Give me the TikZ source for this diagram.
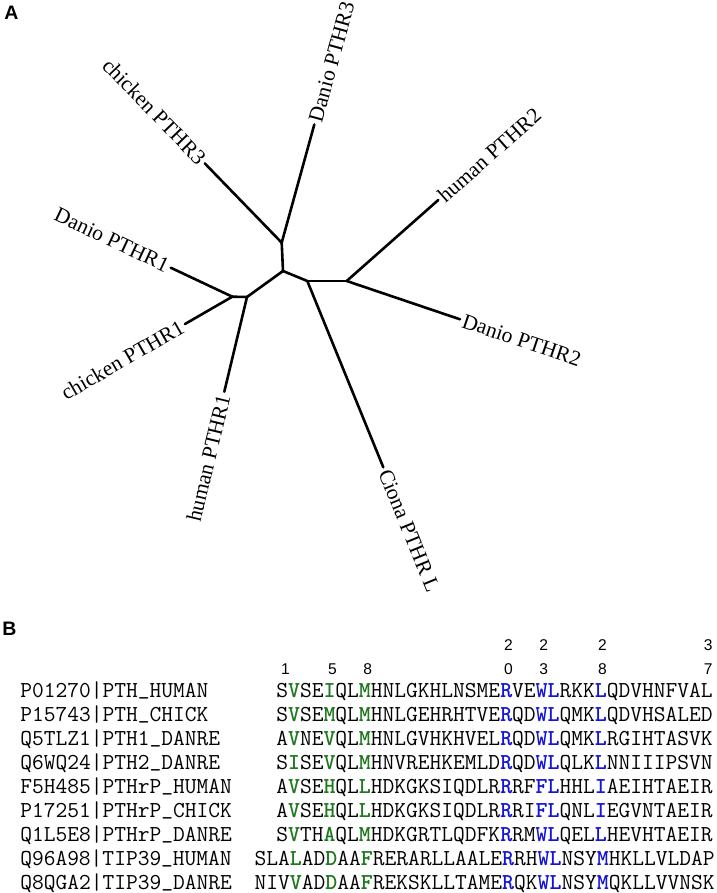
\documentclass[tikz,border=0pt]{standalone}
\usepackage{fontspec}
\usepackage{tikz}

\newfontfamily\treefont{Liberation Serif}
\newfontfamily\panelfont{Liberation Sans}
\definecolor{conserved}{RGB}{30,120,30}
\definecolor{contact}{RGB}{20,20,215}
\newcommand{\grn}[1]{\textcolor{conserved}{\textbf{#1}}}
\newcommand{\blu}[1]{\textcolor{contact}{\textbf{#1}}}
\newcommand{\us}{\raisebox{3pt}{\_}}

\begin{document}
\begin{tikzpicture}[x=1pt, y=-1pt, node distance=24pt, line width=2.6pt, line cap=round,
  leaf node/.style={pos=1, sloped, inner sep=2pt, font=\treefont\fontsize{21.5}{24}\selectfont},
  panel node/.style={anchor=base west, inner sep=0pt, font=\panelfont\bfseries\fontsize{19.5}{21}\selectfont},
  num node/.style={anchor=base, inner sep=0pt, font=\panelfont\fontsize{15.6}{17}\selectfont},
  id node/.style={inner sep=0pt, text width=188pt, align=left, text height=14pt, text depth=2.5pt, font=\ttfamily\fontsize{22.82}{24}\selectfont},
  seq node/.style={inner sep=0pt, text width=458pt, align=right, text height=14pt, text depth=2.5pt, font=\ttfamily\fontsize{22.82}{24}\selectfont}]
  \useasboundingbox (0,0) rectangle (716,893);

  \node[panel node] (A) at (3,20) {A};
  \node[panel node] (B) at (1,635) {B};

  \coordinate (r) at (283,271);
  \coordinate (t3) at (281.7,242.7);
  \coordinate (t2) at (307.3,281);
  \coordinate (t2b) at (346.7,281);
  \coordinate (t1) at (247,297);
  \coordinate (t1b) at (232.3,296.7);
  \coordinate (d3) at (314.3,124.5);
  \coordinate (c3) at (204.7,163.3);
  \coordinate (h2) at (438.3,200);
  \coordinate (d2) at (460,319.3);
  \coordinate (ci) at (383.3,467.3);
  \coordinate (h1) at (224.3,391.7);
  \coordinate (d1) at (170.7,267.7);
  \coordinate (c1) at (185,324);

  \path (r) edge (t3);
  \path (r) edge (t2);
  \path (r) edge (t1);
  \path (t2) edge (t2b);
  \path (t1) edge (t1b);
  \path (t3) edge node[leaf node, anchor=west] (ld3) {Danio PTHR3} (d3);
  \path (t3) edge node[leaf node, anchor=east] (lc3) {chicken PTHR3} (c3);
  \path (t2b) edge node[leaf node, anchor=west] (lh2) {human PTHR2} (h2);
  \path (t2b) edge node[leaf node, anchor=west] (ld2) {Danio PTHR2} (d2);
  \path (t2) edge node[leaf node, anchor=west] (lci) {Ciona PTHR L} (ci);
  \path (t1) edge node[leaf node, anchor=east] (lh1) {human PTHR1} (h1);
  \path (t1b) edge node[leaf node, anchor=east] (ld1) {Danio PTHR1} (d1);
  \path (t1b) edge node[leaf node, anchor=east] (lc1) {chicken PTHR1} (c1);

  \node[num node] (n1) at (285.5,674.3) {1};
  \node[num node] (n5) at (332.4,674.3) {5};
  \node[num node] (n8) at (367.6,674.3) {8};
  \node[num node] (n20) at (508.5,650.3) {2};
  \node[num node] (n20b) [below of=n20] {0};
  \node[num node] (n23) at (543.7,650.3) {2};
  \node[num node] (n23b) [below of=n23] {3};
  \node[num node] (n28) at (602.4,650.3) {2};
  \node[num node] (n28b) [below of=n28] {8};
  \node[num node] (n37) at (708.1,650.3) {3};
  \node[num node] (n37b) [below of=n37] {7};

  \node[id node, anchor=base west] (p1) at (19,697.6) {P01270|PTH\us HUMAN};
  \node[id node] (p2) [below of=p1] {P15743|PTH\us CHICK};
  \node[id node] (p3) [below of=p2] {Q5TLZ1|PTH1\us DANRE};
  \node[id node] (p4) [below of=p3] {Q6WQ24|PTH2\us DANRE};
  \node[id node] (p5) [below of=p4] {F5H485|PTHrP\us HUMAN};
  \node[id node] (p6) [below of=p5] {P17251|PTHrP\us CHICK};
  \node[id node] (p7) [below of=p6] {Q1L5E8|PTHrP\us DANRE};
  \node[id node] (p8) [below of=p7] {Q96A98|TIP39\us HUMAN};
  \node[id node] (p9) [below of=p8] {Q8QGA2|TIP39\us DANRE};

  \node[seq node, anchor=base east] (s1) at (714,697.6) {S\grn{V}SE\grn{I}QL\grn{M}HNLGKHLNSME\blu{R}VE\blu{WL}RKK\blu{L}QDVHNFVAL};
  \node[seq node] (s2) [below of=s1] {S\grn{V}SE\grn{M}QL\grn{M}HNLGEHRHTVE\blu{R}QD\blu{WL}QMK\blu{L}QDVHSALED};
  \node[seq node] (s3) [below of=s2] {A\grn{V}NE\grn{V}QL\grn{M}HNLGVHKHVEL\blu{R}QD\blu{WL}QMK\blu{L}RGIHTASVK};
  \node[seq node] (s4) [below of=s3] {S\grn{I}SE\grn{V}QL\grn{M}HNVREHKEMLD\blu{R}QD\blu{WL}QLK\blu{L}NNIIIPSVN};
  \node[seq node] (s5) [below of=s4] {A\grn{V}SE\grn{H}QL\grn{L}HDKGKSIQDLR\blu{R}RF\blu{FL}HHL\blu{I}AEIHTAEIR};
  \node[seq node] (s6) [below of=s5] {A\grn{V}SE\grn{H}QL\grn{L}HDKGKSIQDLR\blu{R}RI\blu{FL}QNL\blu{I}EGVNTAEIR};
  \node[seq node] (s7) [below of=s6] {S\grn{V}TH\grn{A}QL\grn{M}HDKGRTLQDFK\blu{R}RM\blu{WL}QEL\blu{L}HEVHTAEIR};
  \node[seq node] (s8) [below of=s7] {SLA\grn{L}AD\grn{D}AA\grn{F}RERARLLAALE\blu{R}RH\blu{WL}NSY\blu{M}HKLLVLDAP};
  \node[seq node] (s9) [below of=s8] {NIV\grn{V}AD\grn{D}AA\grn{F}REKSKLLTAME\blu{R}QK\blu{WL}NSY\blu{M}QKLLVVNSK};
\end{tikzpicture}
\end{document}
